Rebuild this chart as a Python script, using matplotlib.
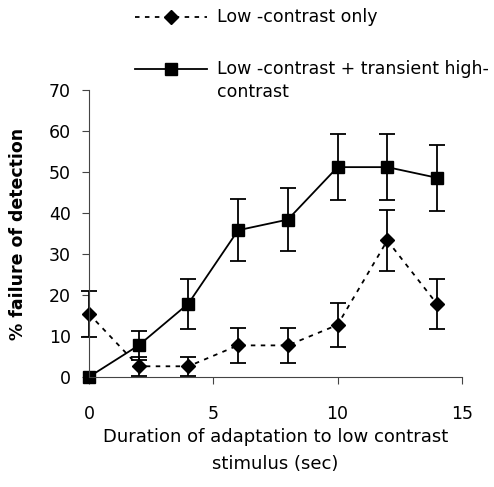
import matplotlib.pyplot as plt
from matplotlib.lines import Line2D

plt.rcParams['font.family'] = ['DejaVu Sans']

# duration of adaptation (sec)
durations = [0, 2, 4, 6, 8, 10, 12, 14]

# low-contrast only
low_only = [15.4, 2.6, 2.6, 7.7, 7.7, 12.7, 33.3, 17.8]
low_only_err = [5.6, 2.3, 2.3, 4.3, 4.3, 5.4, 7.5, 6.1]

# low-contrast + transient high-contrast
low_high = [0, 7.7, 17.9, 35.8, 38.4, 51.2, 51.2, 48.6]
low_high_err = [0, 3.6, 6.1, 7.6, 7.7, 8.0, 8.0, 8.0]

labels = ['Low -contrast only', 'Low -contrast + transient high-\ncontrast']
x_ticks = [0, 5, 10, 15]
y_ticks = [0, 10, 20, 30, 40, 50, 60, 70]

fs = 12.5

fig = plt.figure(figsize=(4.94, 4.87), dpi=100)
ax = fig.add_axes([0.180, 0.226, 0.755, 0.589])

# error bars
for ys, es in [(low_only, low_only_err), (low_high[1:], low_high_err[1:])]:
    xs = durations[-len(ys):]
    eb = ax.errorbar(xs, ys, yerr=es, fmt='none', ecolor='black',
                     elinewidth=1.3, capsize=6, capthick=1.3)
    for art in eb.lines[1] + eb.lines[2]:
        art.set_clip_on(False)

# series lines
ax.plot(durations, low_only, color='black', linestyle=(0, (2.5, 3)), linewidth=1.3,
        marker='D', markersize=7.5, clip_on=False)
ax.plot(durations, low_high, color='black', linestyle='-', linewidth=1.3,
        marker='s', markersize=8, clip_on=False)

ax.set_xlim(0, 15)
ax.set_ylim(0, 70)
ax.set_xticks(x_ticks)
ax.set_yticks(y_ticks)
ax.spines['top'].set_visible(False)
ax.spines['right'].set_visible(False)
ax.spines['left'].set_color('#444444')
ax.spines['bottom'].set_color('#444444')
ax.tick_params(axis='both', labelsize=fs, length=5, color='#444444')
ax.tick_params(axis='x', pad=15)
ax.tick_params(axis='y', pad=8)

ax.set_xlabel('Duration of adaptation to low contrast\nstimulus (sec)',
              fontsize=13, linespacing=1.6, labelpad=4)
ax.set_ylabel('% failure of detection', fontsize=fs, fontweight='bold', labelpad=16)

# legend above the plot, handles aligned with the first text line
W, H = 494, 487
leg_rows = [(17, (0, (2.5, 3)), 'D', 7.5), (69, '-', 's', 8)]
for (ypx, ls, mk, ms), lab in zip(leg_rows, labels):
    yf = 1 - ypx / H
    fig.add_artist(Line2D([135 / W, 207 / W], [yf, yf], transform=fig.transFigure,
                          color='black', linestyle=ls, linewidth=1.3))
    fig.add_artist(Line2D([171 / W], [yf], transform=fig.transFigure, color='black',
                          marker=mk, markersize=ms))
    fig.text(217 / W, 1 - (ypx - 9) / H, lab, fontsize=fs, va='top', ha='left',
             linespacing=1.35)

fig.savefig('out.png', dpi=100)
